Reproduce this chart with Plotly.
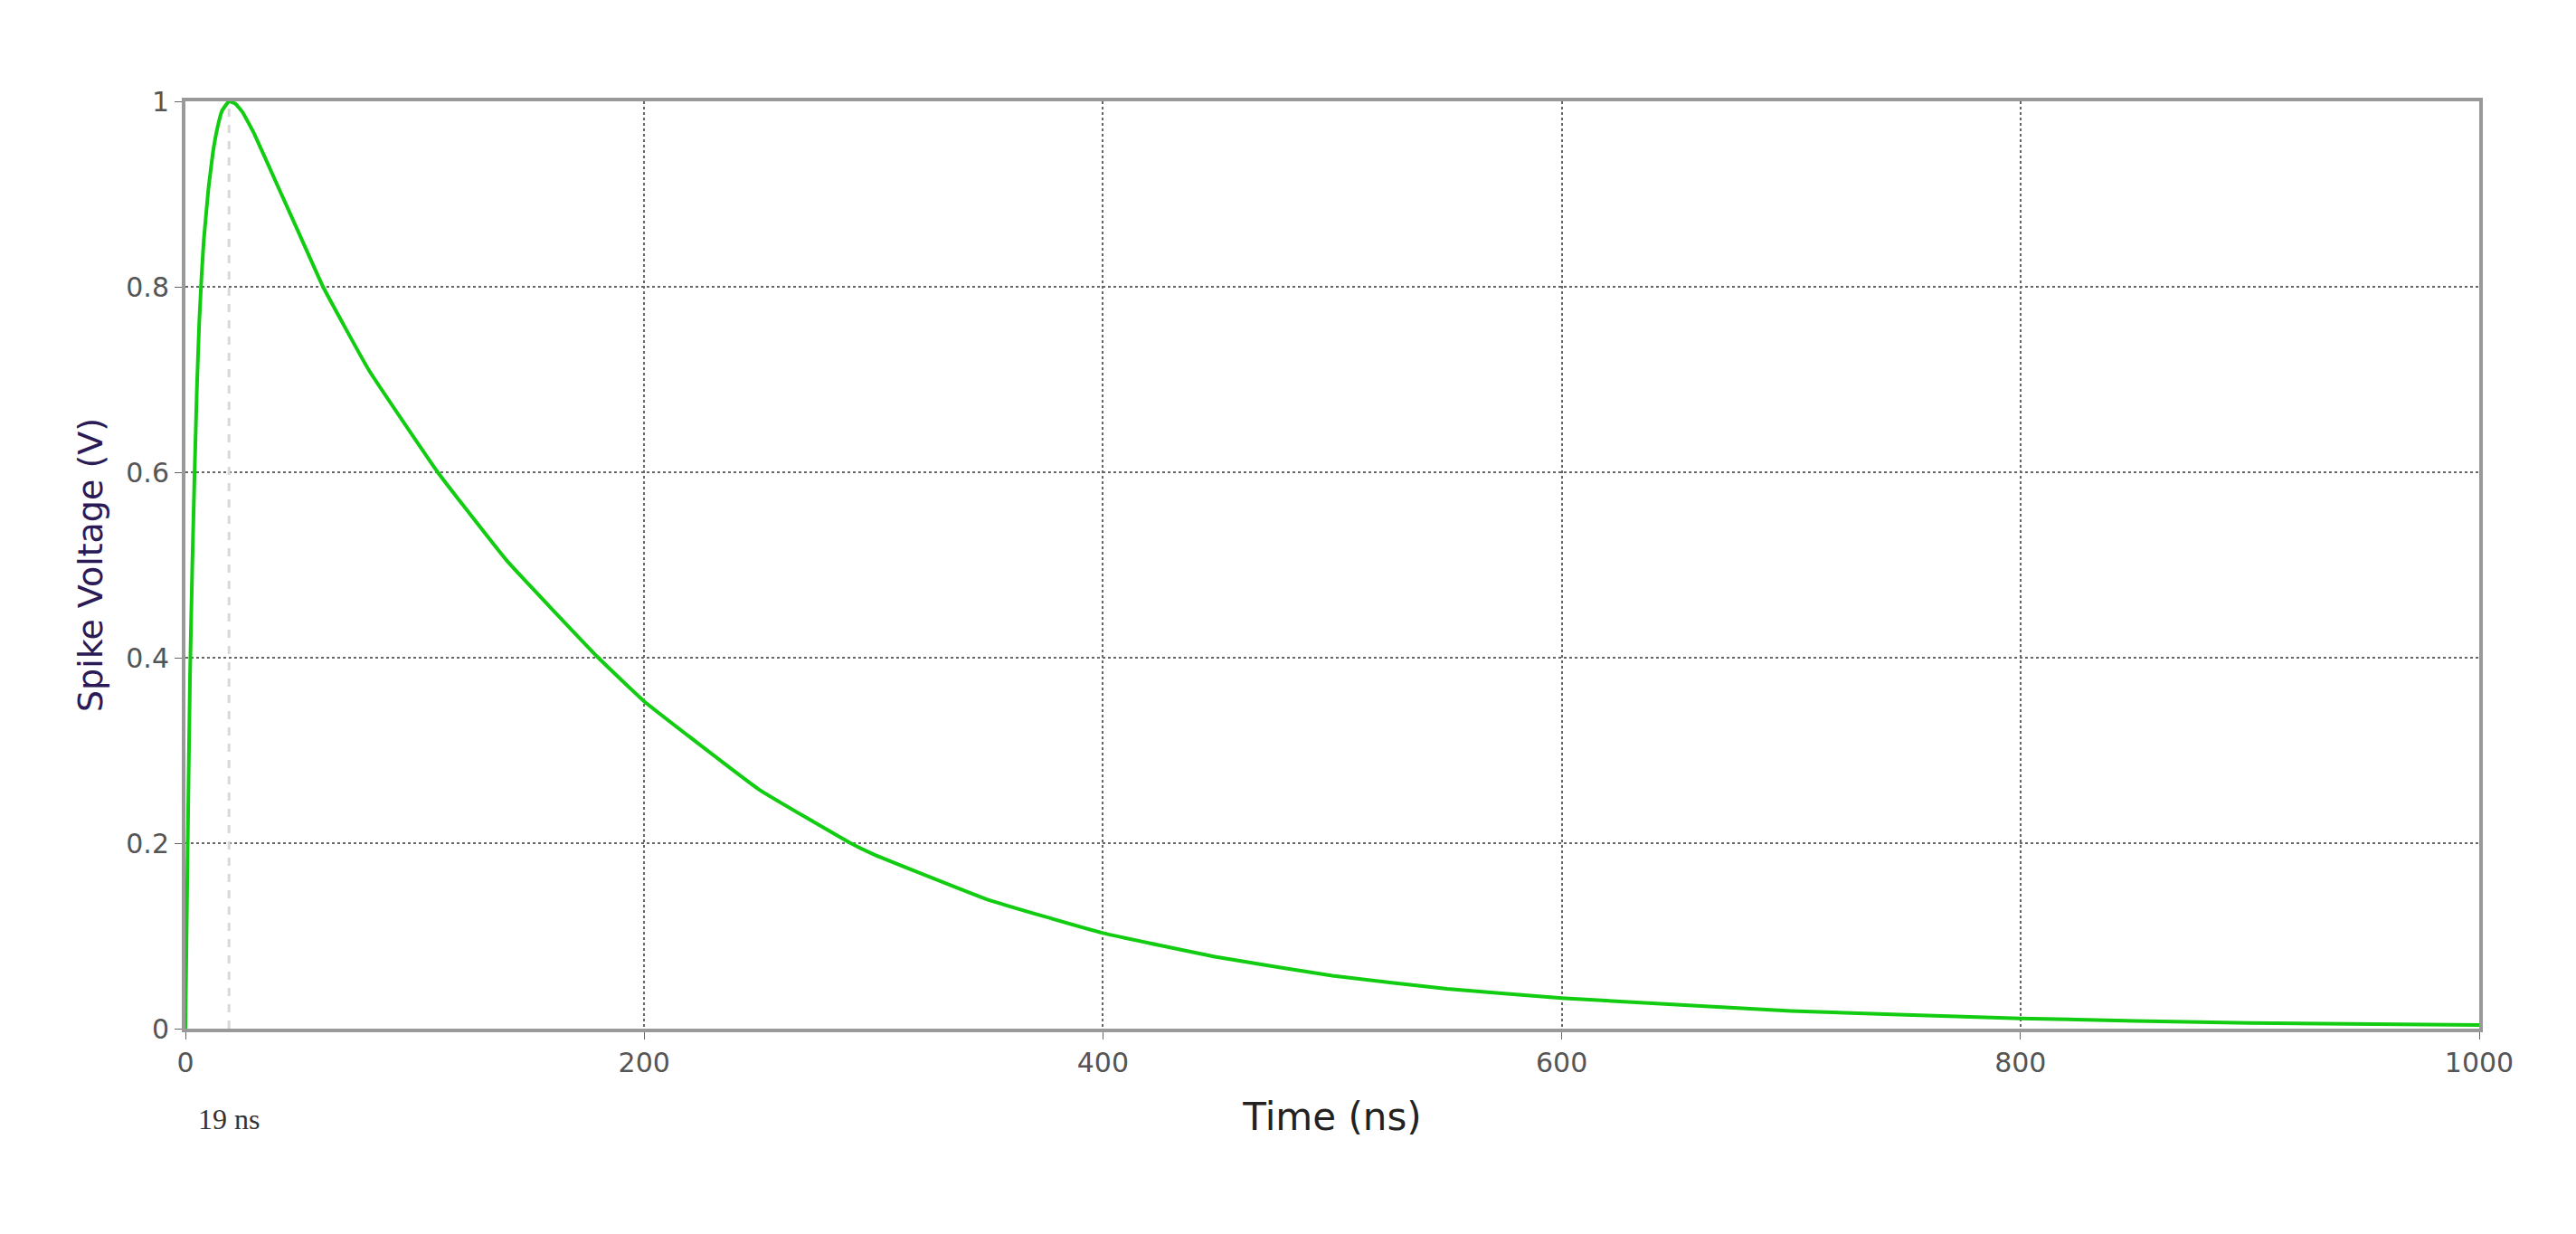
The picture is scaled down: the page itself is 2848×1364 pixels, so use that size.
import plotly.graph_objects as go

# spike waveform
time_ns = [0, 1, 2, 3, 4, 5, 6, 7, 8, 10, 12, 14, 16, 19, 22, 25, 30, 40, 50, 60, 80, 110, 140, 180, 200, 250, 290, 300, 350, 400, 450, 500, 550, 600, 700, 800, 900, 1000]
voltage = [0, 0.2, 0.38, 0.5, 0.6, 0.69, 0.76, 0.81, 0.85, 0.905, 0.945, 0.972, 0.99, 1.0, 0.997, 0.988, 0.965, 0.91, 0.855, 0.8, 0.71, 0.6, 0.505, 0.4, 0.353, 0.258, 0.2, 0.188, 0.139, 0.103, 0.077, 0.057, 0.043, 0.033, 0.019, 0.011, 0.006, 0.004]
peak_t = 19
x_ticks = [0, 200, 400, 600, 800, 1000]
y_ticks = [0, 0.2, 0.4, 0.6, 0.8, 1]

fig = go.Figure()
fig.add_trace(go.Scatter(x=time_ns, y=voltage, mode="lines", line=dict(color="#11cc11", width=4, shape="spline", smoothing=0.3), showlegend=False))
fig.add_vline(x=peak_t, line=dict(color="#d8d8d8", width=3, dash="dash"))
fig.add_annotation(x=peak_t, y=0, yref="paper", yshift=-120, text="19 ns", showarrow=False,
                   font=dict(family="Liberation Serif", size=32, color="#333333"))

fig.update_layout(width=2848, height=1364, plot_bgcolor="white", paper_bgcolor="white",
                  margin=dict(l=197, r=115, t=104, b=235),
                  font=dict(family="DejaVu Sans", size=30, color="#555555"))
fig.update_xaxes(range=[0, 1000], tickvals=x_ticks, showgrid=True, gridcolor="#666666", griddash="dot", gridwidth=2,
                 showline=True, linecolor="#999999", linewidth=4, mirror=True, ticks="outside", ticklen=8, tickcolor="#666666",
                 title=dict(text="Time (ns)", font=dict(size=42, color="#222222"), standoff=30), zeroline=False)
fig.update_yaxes(range=[0, 1], tickvals=y_ticks, showgrid=True, gridcolor="#666666", griddash="dot", gridwidth=2,
                 showline=True, linecolor="#999999", linewidth=4, mirror=True, ticks="outside", ticklen=8, tickcolor="#666666",
                 title=dict(text="Spike Voltage (V)", font=dict(size=38, color="#2a1a55")), zeroline=False)

fig.write_html("out.html")
